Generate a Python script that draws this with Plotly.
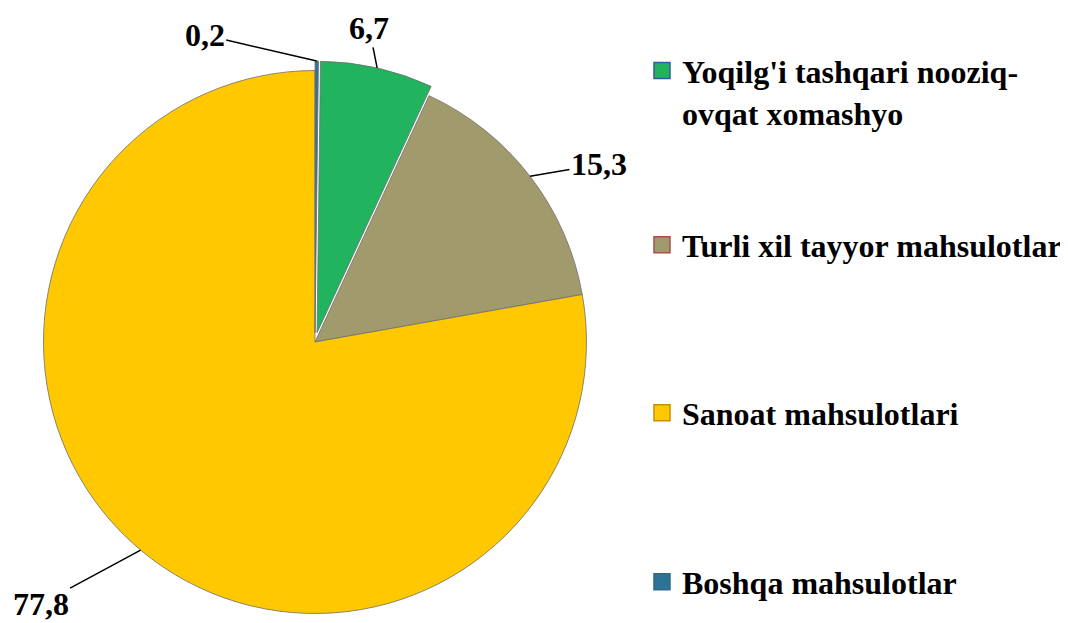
import math
import plotly.graph_objects as go

# ---- data ----
categories = ["Yoqilg'i tashqari nooziq-ovqat xomashyo",
              "Turli xil tayyor mahsulotlar",
              "Sanoat mahsulotlari",
              "Boshqa mahsulotlar"]
legend_labels = ["Yoqilg'i tashqari nooziq-<br>ovqat xomashyo",
                 "Turli xil tayyor mahsulotlar",
                 "Sanoat mahsulotlari",
                 "Boshqa mahsulotlar"]
values = [6.7, 15.3, 77.8, 0.2]

# ---- style ----
slice_colors = ["#22b35e", "#a09a6c", "#ffc800", "#2c7496"]
marker_edge = ["#2f5f9a", "#a85050", "#c89000", "#2c6a88"]
pulls = [0.035, 0, 0, 0.035]
FONT = "Times New Roman, Liberation Serif, DejaVu Serif, serif"
W, H = 1060, 615   # page body has an 8px margin

dom_x = [0.0245, 0.5547]
dom_y = [0.0, 0.9138]

total = sum(values)
rotation = values[3] / total * 360.0  # last slice sits just right of 12 o'clock

fig = go.Figure()
fig.add_trace(go.Pie(
    labels=categories, values=values, sort=False, direction="clockwise",
    rotation=rotation, pull=pulls, textinfo="none", showlegend=False,
    marker=dict(colors=slice_colors, line=dict(color="rgba(110,110,110,0.8)", width=1)),
    domain=dict(x=dom_x, y=dom_y), hoverinfo="label+value",
))

# legend entries (one legend each so they can be spaced like the reference)
legend_y = [0.864, 0.6146, 0.3415, 0.0667]
legend_names = ["legend", "legend2", "legend3", "legend4"]
for i, lab in enumerate(legend_labels):
    fig.add_trace(go.Scatter(
        x=[None], y=[None], mode="markers",
        name="<b>" + lab.replace("<br>", "</b><br><b>") + "</b>",
        marker=dict(symbol="square", size=16, color=slice_colors[i],
                    line=dict(color=marker_edge[i], width=1.5)),
        legend=legend_names[i], showlegend=True, hoverinfo="skip",
    ))

legend_common = dict(x=0.5981, xanchor="left", yanchor="middle", valign="top",
                     font=dict(family=FONT, size=32, color="black"),
                     bgcolor="rgba(0,0,0,0)", itemclick=False, itemdoubleclick=False)
layout_leg = {}
for i, ln in enumerate(legend_names):
    d = dict(legend_common)
    d["y"] = legend_y[i]
    layout_leg[ln] = d

# ---- value labels with leader lines, positioned from slice geometry ----
dw = (dom_x[1] - dom_x[0]) * W
dh = (dom_y[1] - dom_y[0]) * H
r = min(dw, dh) / (2 * (1 + max(pulls)))
cx = (dom_x[0] + dom_x[1]) / 2 * W
cy = H - (dom_y[0] + dom_y[1]) / 2 * H
label_offsets = [(-8, -40), (69, -12), (-100, 54), (-112, -26)]

annotations = []
start = rotation
for i, v in enumerate(values):
    span = v / total * 360.0
    mid = math.radians(start + span / 2)
    start += span
    R = r * (1 + pulls[i])
    px = cx + R * math.sin(mid)
    py = cy - R * math.cos(mid)
    txt = f"{v:.1f}".replace(".", ",")
    ax, ay = label_offsets[i]
    annotations.append(dict(
        x=px / W, y=1 - py / H, xref="paper", yref="paper",
        text=f"<b>{txt}</b>", showarrow=True, arrowhead=0, arrowwidth=1.5,
        arrowcolor="black", ax=ax, ay=ay,
        font=dict(family=FONT, size=32, color="black"),
    ))

fig.update_layout(
    width=W, height=H,
    margin=dict(l=0, r=0, t=0, b=0),
    paper_bgcolor="white", plot_bgcolor="white",
    font=dict(family=FONT),
    xaxis=dict(visible=False), yaxis=dict(visible=False),
    annotations=annotations,
    **layout_leg,
)

fig.write_html("out.html")
